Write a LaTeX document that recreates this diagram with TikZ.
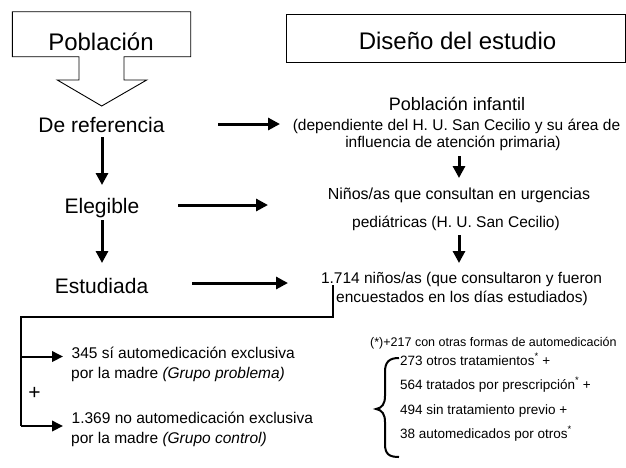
\documentclass[tikz,border=0pt]{standalone}
\usepackage{fontspec}
\setmainfont{Liberation Sans}
\usetikzlibrary{arrows.meta}
\begin{document}
\begin{tikzpicture}[x=1pt,y=-1pt,
  txt/.style={inner sep=0pt,anchor=base},
  ltxt/.style={inner sep=0pt,anchor=base west},
  title/.style={txt,font=\fontsize{24}{28}\selectfont},
  lbl/.style={txt,font=\fontsize{21}{25}\selectfont},
  mid/.style={txt,font=\fontsize{15.5}{19}\selectfont},
  grp/.style={ltxt,font=\fontsize{15.5}{19}\selectfont},
  sml/.style={ltxt,font=\fontsize{13.5}{16}\selectfont},
  thinline/.style={line width=0.9pt},
  bigarr/.style={line width=3pt,-{Triangle[length=12pt,width=12pt]}},
  smallarr/.style={line width=2pt,-{Triangle[length=11pt,width=10.5pt]}},
  bracketline/.style={line width=2pt}
]
\useasboundingbox (0,0) rectangle (626,467);

% Poblacion callout shape
\draw[thinline,line join=miter] (12.3,11.7) -- (190.7,11.7) -- (190.7,56.7) -- (124,56.7) -- (124,80)
  -- (146.7,80) -- (101.7,106) -- (57.3,80) -- (79,80) -- (79,56.7) -- (12.3,56.7) -- cycle;
\node[title] (pob) at (101,50) {Población};

% Diseno box
\draw[thinline] (286.7,14) rectangle (625.5,62.7);
\node[title] (dis) at (457.5,49) {Diseño del estudio};

% left labels
\node[lbl] (deref) at (101.5,132) {De referencia};
\node[lbl] (eleg) at (102,213.5) {Elegible};
\node[lbl] (estu) at (101.5,293) {Estudiada};

% right texts
\node[txt,font=\fontsize{18}{21}\selectfont] (pi1) at (457,110) {Población infantil};
\node[mid] (pi2) at (456.5,130) {(dependiente del H. U. San Cecilio y su área de};
\node[mid] (pi3) at (453,147) {influencia de atención primaria)};
\node[mid,font=\fontsize{16}{19}\selectfont] (ni1) at (459,199) {Niños/as que consultan en urgencias};
\node[mid] (ni2) at (456,227) {pediátricas (H. U. San Cecilio)};
\node[mid] (es1) at (461.5,283) {1.714 niños/as (que consultaron y fueron};
\node[mid] (es2) at (462,302) {encuestados en los días estudiados)};

% arrow coordinates
\coordinate (a1s) at (218,124); \coordinate (a1e) at (280,124);
\coordinate (a2s) at (178,205); \coordinate (a2e) at (268,205);
\coordinate (a3s) at (192,283); \coordinate (a3e) at (288,283);
\coordinate (v1s) at (102,137); \coordinate (v1e) at (102,185);
\coordinate (v2s) at (102,220); \coordinate (v2e) at (102,263);
\coordinate (r1s) at (459,156); \coordinate (r1e) at (459,178);
\coordinate (r2s) at (459,235); \coordinate (r2e) at (459,263);

\draw[bigarr] (a1s) -- (a1e);
\draw[bigarr] (a2s) -- (a2e);
\draw[bigarr] (a3s) -- (a3e);
\draw[bigarr] (v1s) -- (v1e);
\draw[bigarr] (v2s) -- (v2e);
\draw[bigarr] (r1s) -- (r1e);
\draw[bigarr] (r2s) -- (r2e);

% split bracket
\coordinate (split) at (333,285);
\coordinate (corner1) at (333,317);
\coordinate (corner2) at (21,317);
\coordinate (br1) at (21,356.5);
\coordinate (br2) at (21,426);
\coordinate (g1) at (63,356.5);
\coordinate (g2) at (63,426);
\draw[bracketline,line join=miter] (split) -- (corner1) -- (corner2) -- (br2);
\draw[smallarr] (br1) -- (g1);
\draw[smallarr] (br2) -- (g2);
\node[txt,font=\fontsize{21}{24}\selectfont,anchor=center] (plus) at (34.5,393) {+};

\node[grp] (gp1) at (71.5,358) {345 sí automedicación exclusiva};
\node[grp] (gp2) at (71,378) {por la madre \textit{(Grupo problema)}};
\node[grp] (gc1) at (71.5,423) {1.369 no automedicación exclusiva};
\node[grp] (gc2) at (71,443) {por la madre \textit{(Grupo control)}};

% right lower
\node[ltxt,font=\fontsize{12.5}{15}\selectfont] (note) at (370,346) {(*)+217 con otras formas de automedicación};
\node[sml] (c1) at (400,365) {273 otros tratamientos\textsuperscript{*} +};
\node[sml] (c2) at (400,389) {564 tratados por prescripción\textsuperscript{*} +};
\node[sml] (c3) at (400,414) {494 sin tratamiento previo +};
\node[sml] (c4) at (400,438) {38 automedicados por otros\textsuperscript{*}};

\draw[line width=2pt] (399,358) .. controls (389,358) and (385,362) .. (385,372) -- (385,396)
  .. controls (385,404) and (382,408) .. (376,409)
  .. controls (382,410) and (385,414) .. (385,422) -- (385,444)
  .. controls (385,454) and (389,457) .. (399,457);
\end{tikzpicture}
\end{document}
